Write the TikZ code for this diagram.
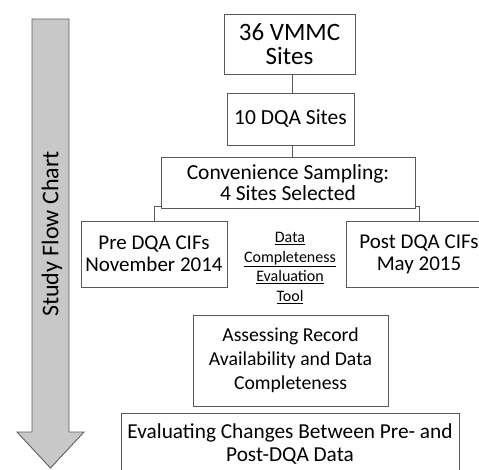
\documentclass[tikz,border=0pt]{standalone}
\usepackage{fontspec}
\setmainfont{Carlito}
\definecolor{boxline}{HTML}{595959}
\definecolor{arrowfill}{HTML}{C8C8C8}
\definecolor{arrowline}{HTML}{5F5F5F}
\begin{document}
\begin{tikzpicture}[x=1pt,y=-1pt,
  box/.style={draw=boxline,line width=0.9pt,fill=white,inner sep=0pt,align=center,text=black},
  conn/.style={draw=boxline,line width=0.9pt},
  lbl/.style={inner sep=0pt,align=center,text=black}]
\useasboundingbox (0,0) rectangle (479,469);
\clip (0,0) rectangle (479,469);
\fill[white] (0,0) rectangle (479,469);
% side arrow
\draw[fill=arrowfill,draw=arrowline,line width=0.9pt]
  (32,19) -- (69,19) -- (69,432) -- (84,432) -- (50.5,468) -- (17,432) -- (32,432) -- cycle;
\node[lbl,rotate=90,font=\fontsize{24}{28}\selectfont] (title) at (52,234) {Study Flow Chart};
% boxes
\node[box,minimum width=131,minimum height=60,font=\fontsize{25}{24}\selectfont] (vmmc) at (289.5,44) {36 VMMC\\Sites};
\node[box,minimum width=127,minimum height=52,font=\fontsize{21.5}{24}\selectfont] (dqa) at (290.5,119) {10 DQA Sites};
\node[box,minimum width=254,minimum height=51,font=\fontsize{21.5}{21.5}\selectfont] (conv) at (288,182.5) {Convenience Sampling:\\4 Sites Selected};
\node[box,minimum width=146,minimum height=66,font=\fontsize{21}{22}\selectfont] (pre) at (154,254) {Pre DQA CIFs\\November 2014};
\node[box,minimum width=146,minimum height=66,font=\fontsize{21}{22}\selectfont] (post) at (419,254) {Post DQA CIFs\\May 2015};
\node[lbl,font=\fontsize{16}{19.5}\selectfont] (tool) at (290,268) {\underline{Data}\\\underline{Completeness}\\\underline{Evaluation}\\\underline{Tool}};
\node[box,minimum width=195,minimum height=91,font=\fontsize{19.7}{24}\selectfont] (assess) at (290.5,360.5) {Assessing Record\\Availability and Data\\Completeness};
\node[box,minimum width=338,minimum height=62,font=\fontsize{21.3}{23}\selectfont] (eval) at (290,444) {Evaluating Changes Between Pre- and\\Post-DQA Data};
% connectors
\coordinate (cl) at (161,206);
\coordinate (cr) at (415,206);
\draw[conn] (vmmc.south -| 292,0) -- (dqa.north -| 292,0);
\draw[conn] (dqa.south -| 292,0) -- (conv.north -| 292,0);
\draw[conn] (pre.north) |- (cl);
\draw[conn] (post.north) |- (cr);
\end{tikzpicture}
\end{document}
